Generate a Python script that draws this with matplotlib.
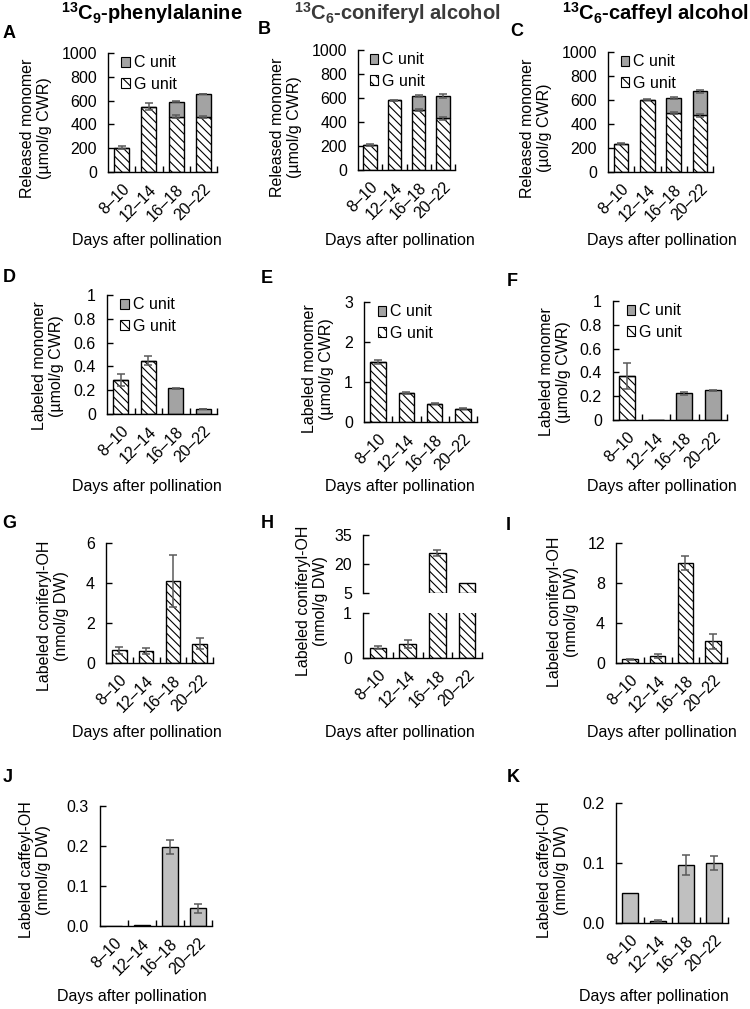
import numpy as np
import matplotlib
matplotlib.use('Agg')
import matplotlib.pyplot as plt
from matplotlib.patches import Patch

plt.rcParams['font.family'] = ['Liberation Sans', 'DejaVu Sans']
plt.rcParams['mathtext.fontset'] = 'custom'
plt.rcParams['mathtext.rm'] = 'Liberation Sans'
plt.rcParams['mathtext.bf'] = 'Liberation Sans:bold'
plt.rcParams['hatch.linewidth'] = 0.8
plt.rcParams['font.size'] = 11

# Data
days = ['8–10', '12–14', '16–18', '20–22']

# Released monomer (umol/g CWR): G unit bottom, C unit stacked
phe_rel_g = [205, 550, 465, 460]
phe_rel_g_err = [10, 30, 10, 8]
phe_rel_c = [0, 0, 125, 195]
phe_rel_c_err = [0, 0, 5, 3]

con_rel_g = [208, 580, 500, 430]
con_rel_g_err = [5, 5, 10, 10]
con_rel_c = [0, 0, 117, 187]
con_rel_c_err = [0, 0, 10, 20]

caf_rel_g = [236, 603, 492, 472]
caf_rel_g_err = [5, 5, 8, 10]
caf_rel_c = [0, 0, 125, 200]
caf_rel_c_err = [0, 0, 8, 10]

# Labeled monomer
phe_lab_g = [0.286, 0.448, 0, 0]
phe_lab_g_err = [0.047, 0.04, 0, 0]
phe_lab_c = [0, 0, 0.216, 0.042]
phe_lab_c_err = [0, 0, 0.005, 0.003]

con_lab_g = [1.5, 0.73, 0.46, 0.33]
con_lab_g_err = [0.05, 0.03, 0.02, 0.01]
con_lab_c = [0, 0, 0, 0]
con_lab_c_err = [0, 0, 0, 0]

caf_lab_g = [0.369, 0, 0, 0]
caf_lab_g_err = [0.11, 0, 0, 0]
caf_lab_c = [0, 0, 0.223, 0.251]
caf_lab_c_err = [0, 0, 0.01, 0.005]

# Labeled coniferyl-OH (nmol/g DW)
phe_con = [0.64, 0.6, 4.1, 0.97]
phe_con_err = [0.17, 0.15, 1.3, 0.28]
con_con = [0.23, 0.31, 25.5, 10.3]
con_con_err = [0.03, 0.08, 1.5, 0]
caf_con = [0.37, 0.74, 10.0, 2.2]
caf_con_err = [0.05, 0.2, 0.67, 0.75]

# Labeled caffeyl-OH (nmol/g DW)
phe_caf = [0, 0.002, 0.198, 0.044]
phe_caf_err = [0, 0, 0.017, 0.011]
caf_caf = [0.05, 0.003, 0.097, 0.1]
caf_caf_err = [0, 0.002, 0.017, 0.012]

HATCH = '\\\\\\\\'
C_GRAY = '#a3a3a3'
OH_GRAY = '#c0c0c0'
ERR = '#5a5a5a'
BW = 0.55

W, H = 750, 1009
fig = plt.figure(figsize=(7.5, 10.09), dpi=100)


def box(l, t, r, b):
    return [l / W, 1 - b / H, (r - l) / W, (b - t) / H]


def ftext(x, y, s, **kw):
    fig.text(x / W, 1 - y / H, s, ha='center', va='center', **kw)


def style(ax, ymax, yticks, ylabels, xlabels=True):
    x = np.arange(len(days))
    ax.set_xlim(-0.5, 3.5)
    ax.set_ylim(0, ymax)
    for s in ['top', 'right']:
        ax.spines[s].set_visible(False)
    for s in ['left', 'bottom']:
        ax.spines[s].set_linewidth(1.0)
    ax.set_yticks(yticks)
    ax.set_yticklabels(ylabels, fontsize=11.5)
    ax.tick_params(axis='y', direction='in', length=4, width=1, pad=8)
    ax.set_xticks(x)
    if xlabels:
        ax.set_xticklabels(days, rotation=45, ha='right', rotation_mode='anchor', fontsize=11.5)
    else:
        ax.set_xticklabels([])
    ax.tick_params(axis='x', which='major', length=0, pad=7)
    ax.set_xticks(x + 0.5, minor=True)
    ax.tick_params(axis='x', which='minor', direction='in', length=4, width=1)


def errs(ax, xs, tops, err):
    xs = np.asarray(xs)
    tops = np.asarray(tops, dtype=float)
    err = np.asarray(err, dtype=float)
    m = err > 0
    if m.any():
        ax.errorbar(xs[m], tops[m], yerr=err[m], fmt='none', ecolor=ERR,
                    elinewidth=1.1, capsize=3, capthick=1.1, zorder=5)


def stacked(ax, g, ge, c, ce):
    x = np.arange(len(days))
    ax.bar(x, g, BW, color='white', edgecolor='black', hatch=HATCH, linewidth=1, zorder=2)
    ax.bar(x, c, BW, bottom=g, color=C_GRAY, edgecolor='black', linewidth=1, zorder=2)
    errs(ax, x, g, ge)
    errs(ax, x, np.add(g, c), ce)
    hs = [Patch(facecolor=C_GRAY, edgecolor='black', linewidth=0.8),
          Patch(facecolor='white', edgecolor='black', hatch='\\\\\\', linewidth=0.8)]
    ax.legend(hs, ['C unit', 'G unit'], loc='upper left', bbox_to_anchor=(0.12, 0.98),
              frameon=False, handlelength=0.55, handleheight=0.55, handletextpad=0.25,
              labelspacing=0.4, borderpad=0, borderaxespad=0, fontsize=11.5)


# Row 1: released monomer
rel_ticks = [0, 200, 400, 600, 800, 1000]
rel_lbl = [str(v) for v in rel_ticks]
for pos, (g, ge, c, ce) in zip(
        [(108, 53, 217, 172), (358, 50, 455, 170), (608, 52, 713, 172)],
        [(phe_rel_g, phe_rel_g_err, phe_rel_c, phe_rel_c_err),
         (con_rel_g, con_rel_g_err, con_rel_c, con_rel_c_err),
         (caf_rel_g, caf_rel_g_err, caf_rel_c, caf_rel_c_err)]):
    ax = fig.add_axes(box(*pos))
    style(ax, 1000, rel_ticks, rel_lbl)
    stacked(ax, g, ge, c, ce)

# Row 2: labeled monomer
frac_ticks = [0, 0.2, 0.4, 0.6, 0.8, 1]
frac_lbl = ['0', '0.2', '0.4', '0.6', '0.8', '1']
ax = fig.add_axes(box(107, 295, 217, 414))
style(ax, 1, frac_ticks, frac_lbl)
stacked(ax, phe_lab_g, phe_lab_g_err, phe_lab_c, phe_lab_c_err)

ax = fig.add_axes(box(364, 302, 477, 422))
style(ax, 3, [0, 1, 2, 3], ['0', '1', '2', '3'])
stacked(ax, con_lab_g, con_lab_g_err, con_lab_c, con_lab_c_err)

ax = fig.add_axes(box(613, 301, 727, 420))
style(ax, 1, frac_ticks, frac_lbl)
stacked(ax, caf_lab_g, caf_lab_g_err, caf_lab_c, caf_lab_c_err)

# Row 3: labeled coniferyl-OH
x = np.arange(len(days))
ax = fig.add_axes(box(106, 543, 213, 663))
style(ax, 6, [0, 2, 4, 6], ['0', '2', '4', '6'])
ax.bar(x, phe_con, BW, color='white', edgecolor='black', hatch=HATCH, linewidth=1, zorder=2)
errs(ax, x, phe_con, phe_con_err)

# broken axis panel H
axu = fig.add_axes(box(363, 535, 482, 593))
axl = fig.add_axes(box(363, 613, 482, 658))
style(axl, 1, [0, 1], ['0', '1'])
style(axu, 35, [5, 20, 35], ['5', '20', '35'], xlabels=False)
axu.set_ylim(5, 35)
axu.spines['bottom'].set_visible(False)
axu.tick_params(axis='x', which='both', length=0)
con_con_arr = np.array(con_con)
big = con_con_arr > 5
axu.bar(x[big], con_con_arr[big] - 5, BW, bottom=5, color='white', edgecolor='black',
        hatch=HATCH, linewidth=1, zorder=2)
errs(axu, x[big], con_con_arr[big], np.array(con_con_err)[big])
axl.bar(x, con_con, BW, color='white', edgecolor='black', hatch=HATCH, linewidth=1, zorder=2)
errs(axl, x[~big], con_con_arr[~big], np.array(con_con_err)[~big])

ax = fig.add_axes(box(616, 543, 727, 663))
style(ax, 12, [0, 4, 8, 12], ['0', '4', '8', '12'])
ax.bar(x, caf_con, BW, color='white', edgecolor='black', hatch=HATCH, linewidth=1, zorder=2)
errs(ax, x, caf_con, caf_con_err)

# Row 4: labeled caffeyl-OH
ax = fig.add_axes(box(100, 806, 212, 926))
style(ax, 0.3, [0, 0.1, 0.2, 0.3], ['0.0', '0.1', '0.2', '0.3'])
ax.bar(x, phe_caf, BW, color=OH_GRAY, edgecolor='black', linewidth=1, zorder=2)
errs(ax, x, phe_caf, phe_caf_err)

ax = fig.add_axes(box(616, 803, 728, 923))
style(ax, 0.2, [0, 0.1, 0.2], ['0.0', '0.1', '0.2'])
ax.bar(x, caf_caf, BW, color=OH_GRAY, edgecolor='black', linewidth=1, zorder=2)
errs(ax, x, caf_caf, caf_caf_err)

# Column titles
ftext(152, 13, r'$^{\mathbf{13}}\mathbf{C}_{\mathbf{9}}$-phenylalanine', fontsize=14.5, fontweight='bold')
ftext(397, 13, r'$^{\mathbf{13}}\mathbf{C}_{\mathbf{6}}$-coniferyl alcohol', fontsize=14.5,
      fontweight='bold', color='#3a3a3a')
ftext(655, 13, r'$^{\mathbf{13}}\mathbf{C}_{\mathbf{6}}$-caffeyl alcohol', fontsize=14.5, fontweight='bold')

# Panel letters
for s, px, py in [('A', 9, 33), ('B', 264, 29), ('C', 517, 31), ('D', 9, 277), ('E', 267, 279),
                  ('F', 512, 281), ('G', 9, 524), ('H', 267, 524), ('I', 508, 525),
                  ('J', 8, 778), ('K', 513, 778)]:
    ftext(px, py, s, fontsize=13, fontweight='bold')

# Y labels
for s, px, py in [('Released monomer\n(µmol/g CWR)', 36, 128),
                  ('Released monomer\n(µmol/g CWR)', 286, 127),
                  ('Released monomer\n(µol/g CWR)', 536, 128),
                  ('Labeled monomer\n(µmol/g CWR)', 48, 366),
                  ('Labeled monomer\n(µmol/g CWR)', 318, 369),
                  ('Labeled monomer\n(µmol/g CWR)', 555, 372),
                  ('Labeled coniferyl-OH\n(nmol/g DW)', 53, 616),
                  ('Labeled coniferyl-OH\n(nmol/g DW)', 312, 601),
                  ('Labeled coniferyl-OH\n(nmol/g DW)', 563, 612),
                  ('Labeled caffeyl-OH\n(nmol/g DW)', 35, 870),
                  ('Labeled caffeyl-OH\n(nmol/g DW)', 553, 870)]:
    ftext(px, py, s, fontsize=11.5, rotation=90, linespacing=1.1)

# X labels
for px, py in [(147, 241), (400, 241), (662, 241), (147, 487), (400, 487), (662, 487),
               (147, 733), (400, 733), (662, 733), (132, 997), (654, 997)]:
    ftext(px, py, 'Days after pollination', fontsize=11.5)

fig.savefig('out.png', dpi=100)
